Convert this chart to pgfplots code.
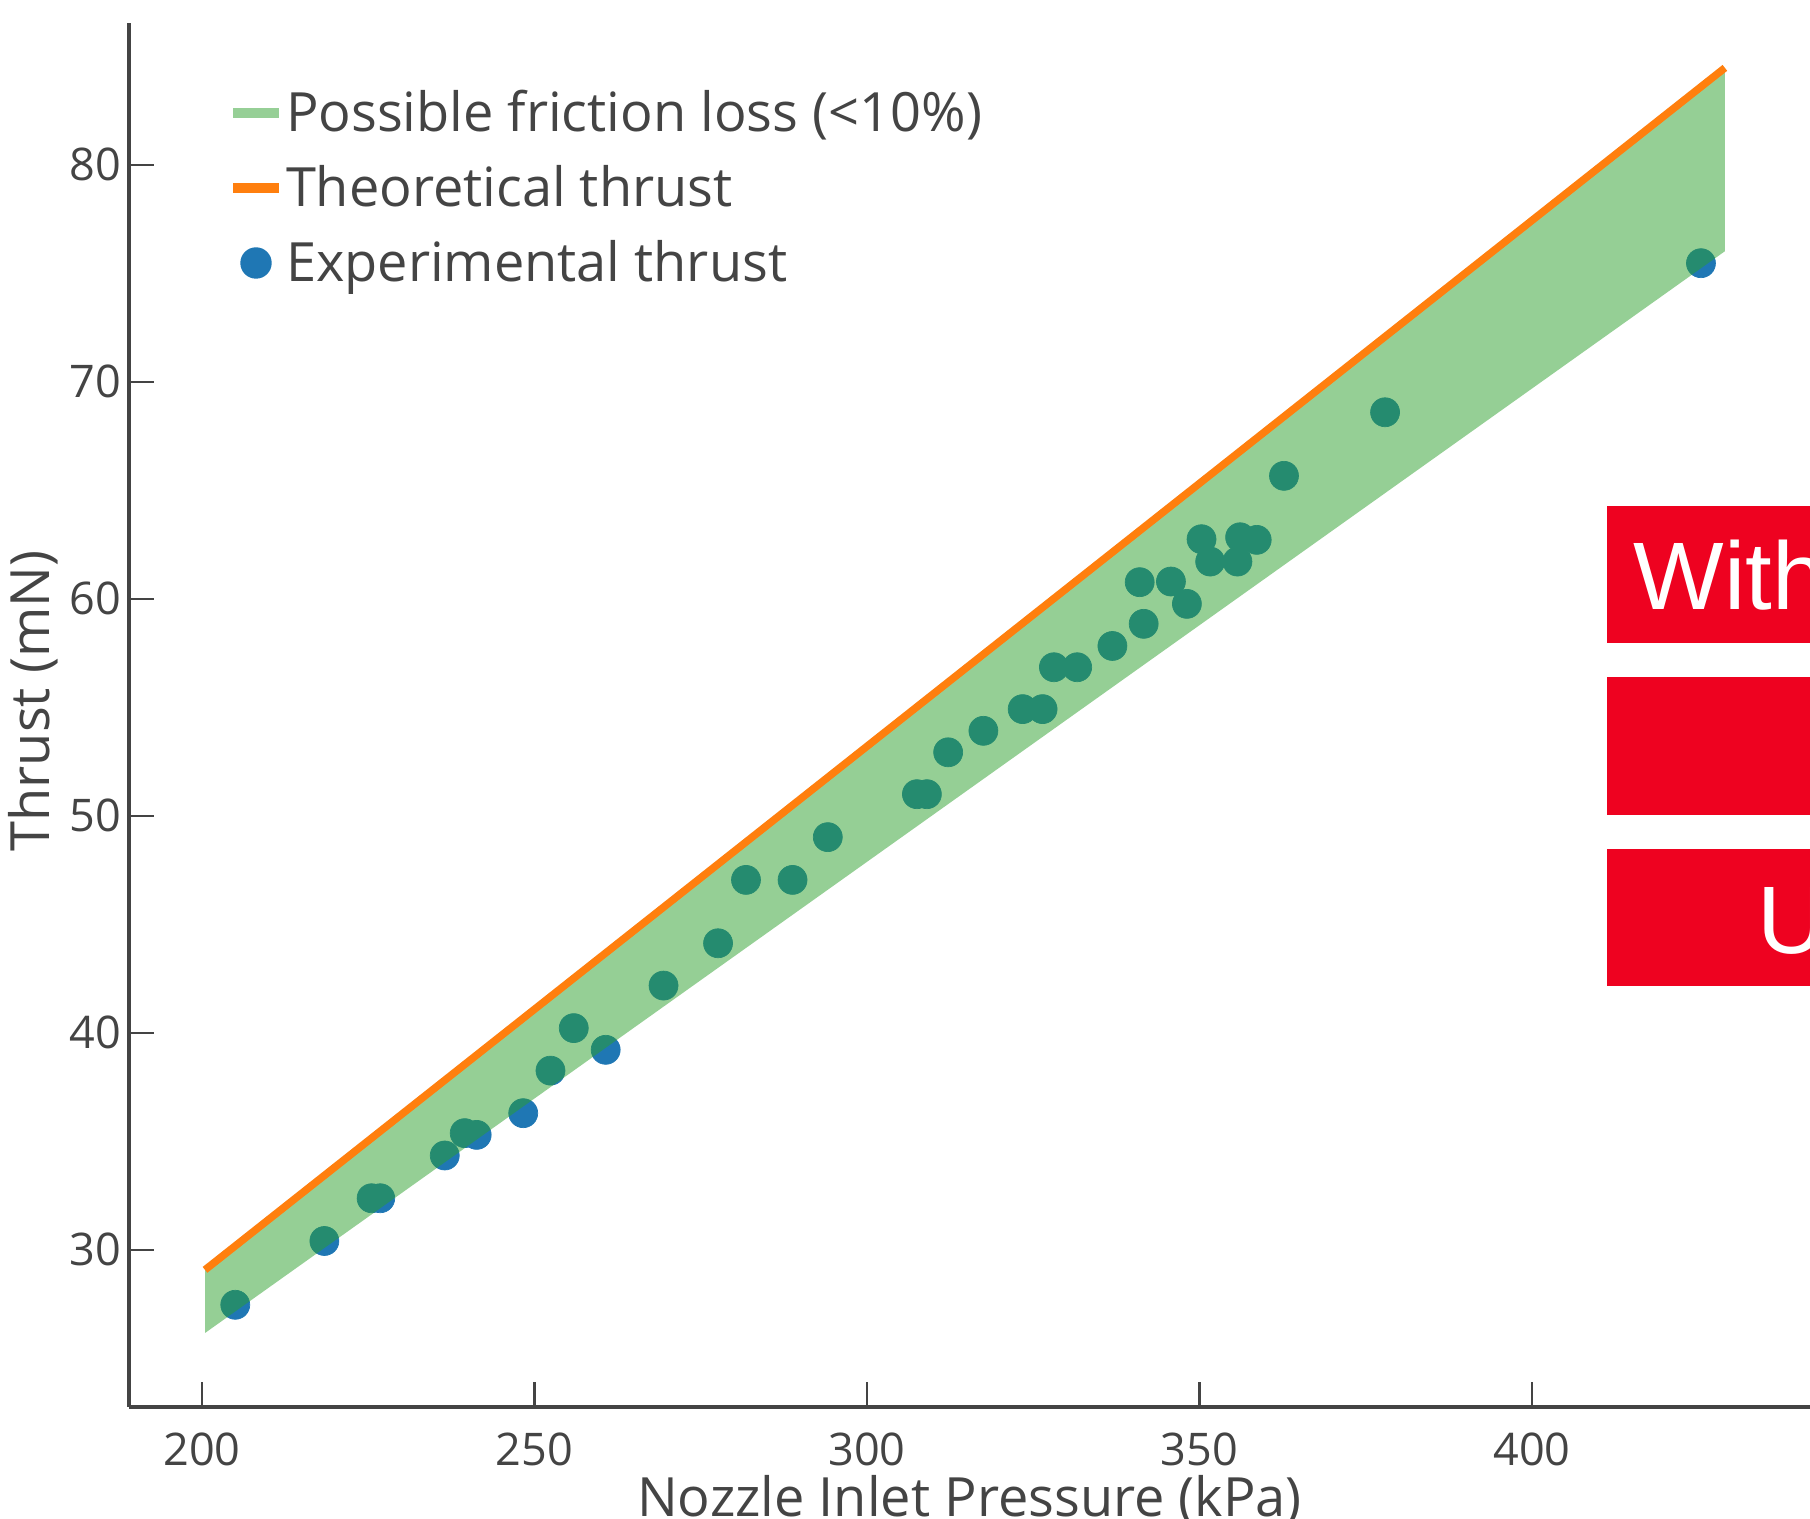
\documentclass[border=0pt]{standalone}
\usepackage{fontspec}
\setmainfont{Open Sans}
\newfontfamily\arialf{Liberation Sans}
\usepackage{pgfplots}
\pgfplotsset{compat=1.18}
\definecolor{cblue}{HTML}{1F77B4}
\definecolor{cgreen}{HTML}{2CA02C}
\definecolor{corange}{HTML}{FF7F0E}
\definecolor{cgrey}{HTML}{444444}
\definecolor{cred}{RGB}{238,2,32}
\begin{document}
\begin{tikzpicture}
\useasboundingbox (-1.29,-1.12) rectangle (16.81,14.07);
\clip (-1.29,-1.12) rectangle (16.81,14.07);
\begin{axis}[
  scale only axis, width=16.81cm, height=13.84cm,
  xmin=189.02, xmax=441.8, ymin=22.76, ymax=86.54,
  clip marker paths=true,
  axis x line=bottom, axis y line=left,
  axis line style={-, line width=1pt, color=cgrey},
  xtick={200,250,...,400}, ytick={30,40,...,80},
  tick align=inside, major tick length=0.25cm,
  tick style={line width=0.7pt, color=cgrey},
  /pgf/number format/assume math mode=true,
  ticklabel style={font=\fontsize{12.8}{15}\selectfont, text=cgrey, inner sep=0pt},
  xticklabel style={yshift=-0.25cm},
  yticklabel style={xshift=-0.07cm},
  xlabel={Nozzle Inlet Pressure (kPa)},
  ylabel={Thrust (mN)},
  label style={font=\fontsize{15.4}{18}\selectfont, text=cgrey, inner sep=0pt},
  xlabel style={at={(axis description cs:0.5,-0.0788)}, anchor=base},
  ylabel style={at={(axis description cs:-0.047,0.5101)}, anchor=base},
  legend style={at={(0.0589,0.9557)}, anchor=north west, draw=none, fill=none,
    inner sep=0pt, outer sep=0pt, font=\fontsize{15.4}{18}\selectfont, text=cgrey,
    row sep=4.8pt, nodes={inner sep=0pt, text height=13.5pt, text depth=3pt},
    /tikz/every odd column/.append style={column sep=0.02cm}},
  legend cell align=left,
]
\addplot[only marks, mark=*, mark size=0.145cm, color=cblue,
  mark options={fill=cblue, draw=cblue, line width=0.2pt}, forget plot] coordinates {
(205.0,27.47) (218.4,30.41) (225.5,32.38) (226.8,32.38) (236.5,34.35)
(239.5,35.38) (241.3,35.30) (248.3,36.30) (252.4,38.26) (255.9,40.22)
(260.7,39.22) (269.4,42.18) (277.6,44.13) (281.8,47.05) (288.8,47.05)
(294.1,49.02) (307.5,51.0) (309.0,51.0) (312.2,52.93) (317.5,53.92)
(323.4,54.92) (326.4,54.92) (328.1,56.85) (331.6,56.85) (336.9,57.83)
(341.6,58.85) (341.0,60.77) (345.7,60.80) (348.1,59.77) (350.3,62.75)
(351.6,61.72) (355.7,61.72) (356.1,62.84) (358.6,62.72) (362.7,65.67)
(377.9,68.60) (425.4,75.47)
};
\addplot[fill=cgreen, fill opacity=0.5, draw=none, forget plot] coordinates {
(200.45,29.08) (429.0,84.47) (429.0,76.02) (200.45,26.17)
};
\addplot[color=corange, line width=0.075cm, forget plot] coordinates {
(200.45,29.08) (429.0,84.47)
};
\addlegendimage{legend image code/.code={\draw[draw=cgreen!50!white, line width=0.1cm] (0cm,0cm) -- (0.46cm,0cm);}}
\addlegendentry{Possible friction loss (<10\%)}
\addlegendimage{legend image code/.code={\draw[draw=corange, line width=0.1cm] (0cm,0cm) -- (0.46cm,0cm);}}
\addlegendentry{Theoretical thrust}
\addlegendimage{legend image code/.code={\fill[cblue] (0.23cm,0cm) circle (0.15cm);}}
\addlegendentry{Experimental thrust}
\end{axis}
\fill[cred] (14.78,7.64) rectangle (17,9.01);
\fill[cred] (14.78,5.92) rectangle (17,7.30);
\fill[cred] (14.78,4.21) rectangle (17,5.58);
\node[anchor=base west, inner sep=0pt, text=white, font=\arialf\fontsize{27.3}{30}\selectfont] at (15.04,7.97) {With};
\node[anchor=base west, inner sep=0pt, text=white, font=\arialf\fontsize{27.3}{30}\selectfont] at (16.28,4.53) {U};
\end{tikzpicture}
\end{document}
